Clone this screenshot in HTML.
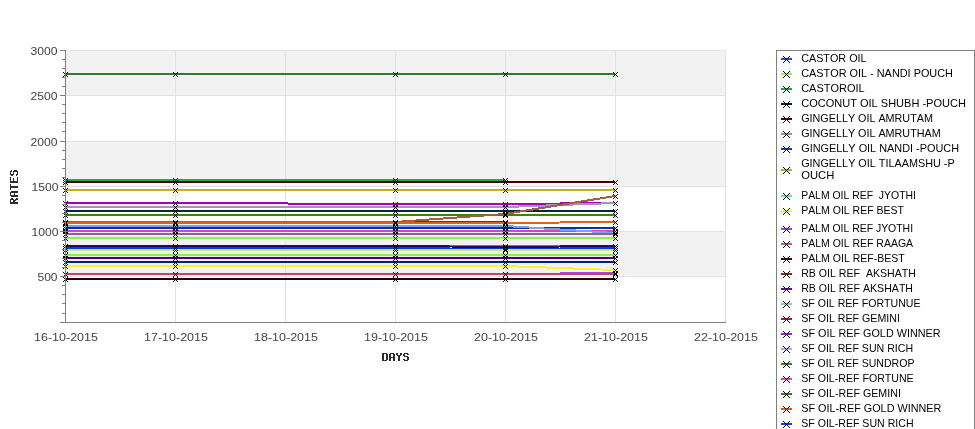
<!DOCTYPE html>
<html><head><meta charset="utf-8"><style>
html,body{margin:0;padding:0;background:#fff;overflow:hidden}
svg{display:block;will-change:transform}
</style></head><body>
<svg width="975" height="429" viewBox="0 0 975 429">
<rect x="0" y="0" width="975" height="429" fill="#fff"/>
<rect x="66" y="50" width="660" height="45" fill="#f2f2f2"/>
<rect x="66" y="141" width="660" height="45" fill="#f2f2f2"/>
<rect x="66" y="231" width="660" height="45" fill="#f2f2f2"/>
<rect x="65" y="276" width="661" height="1" fill="#e2e2e2"/>
<rect x="65" y="231" width="661" height="1" fill="#e2e2e2"/>
<rect x="65" y="186" width="661" height="1" fill="#e2e2e2"/>
<rect x="65" y="141" width="661" height="1" fill="#e2e2e2"/>
<rect x="65" y="95" width="661" height="1" fill="#e2e2e2"/>
<rect x="65" y="50" width="661" height="1" fill="#e2e2e2"/>
<rect x="175" y="50" width="1" height="272" fill="#e2e2e2"/>
<rect x="285" y="50" width="1" height="272" fill="#e2e2e2"/>
<rect x="395" y="50" width="1" height="272" fill="#e2e2e2"/>
<rect x="505" y="50" width="1" height="272" fill="#e2e2e2"/>
<rect x="615" y="50" width="1" height="272" fill="#e2e2e2"/>
<rect x="725" y="50" width="1" height="272" fill="#e2e2e2"/>
<g shape-rendering="crispEdges" stroke-width="2" stroke-linecap="butt" fill="none">
<line x1="65" y1="74" x2="175" y2="74" stroke="#2a7d2a"/>
<line x1="175" y1="74" x2="395" y2="74" stroke="#2a7d2a"/>
<line x1="395" y1="74" x2="505" y2="74" stroke="#2a7d2a"/>
<line x1="505" y1="74" x2="615" y2="74" stroke="#2a7d2a"/>
<line x1="65" y1="180" x2="175" y2="180" stroke="#22ac52"/>
<line x1="175" y1="180" x2="395" y2="180" stroke="#22ac52"/>
<line x1="395" y1="180" x2="505" y2="180" stroke="#22ac52"/>
<line x1="65" y1="182" x2="175" y2="182" stroke="#3e0000"/>
<line x1="175" y1="182" x2="395" y2="182" stroke="#3e0000"/>
<line x1="395" y1="182" x2="505" y2="182" stroke="#3e0000"/>
<line x1="505" y1="182" x2="615" y2="182" stroke="#3e0000"/>
<line x1="65" y1="184" x2="175" y2="184" stroke="#ffffff"/>
<line x1="175" y1="184" x2="395" y2="184" stroke="#ffffff"/>
<line x1="395" y1="184" x2="505" y2="184" stroke="#ffffff"/>
<line x1="505" y1="184" x2="615" y2="184" stroke="#ffffff"/>
<line x1="65" y1="190" x2="175" y2="190" stroke="#c2b020"/>
<line x1="175" y1="190" x2="395" y2="190" stroke="#c2b020"/>
<line x1="395" y1="190" x2="505" y2="190" stroke="#c2b020"/>
<line x1="505" y1="190" x2="615" y2="190" stroke="#c2b020"/>
<line x1="65" y1="205" x2="175" y2="205" stroke="#f0f8f0"/>
<line x1="175" y1="205" x2="395" y2="205" stroke="#f0f8f0"/>
<line x1="395" y1="205" x2="505" y2="205" stroke="#f0f8f0"/>
<line x1="505" y1="205" x2="615" y2="205" stroke="#f0f8f0"/>
<line x1="65" y1="203" x2="175" y2="203" stroke="#a800b0"/>
<line x1="175" y1="203" x2="395" y2="204" stroke="#a800b0"/>
<line x1="395" y1="204" x2="505" y2="204" stroke="#a800b0"/>
<line x1="505" y1="204" x2="615" y2="203" stroke="#a800b0"/>
<line x1="65" y1="207" x2="175" y2="207" stroke="#aa90c6"/>
<line x1="175" y1="207" x2="395" y2="207" stroke="#aa90c6"/>
<line x1="395" y1="207" x2="505" y2="207" stroke="#aa90c6"/>
<line x1="505" y1="207" x2="615" y2="203" stroke="#aa90c6"/>
<line x1="65" y1="211" x2="175" y2="211" stroke="#00283e"/>
<line x1="175" y1="211" x2="395" y2="211" stroke="#00283e"/>
<line x1="395" y1="211" x2="505" y2="211" stroke="#00283e"/>
<line x1="505" y1="211" x2="615" y2="211" stroke="#00283e"/>
<line x1="65" y1="215" x2="175" y2="215" stroke="#3f8010"/>
<line x1="175" y1="215" x2="395" y2="215" stroke="#3f8010"/>
<line x1="395" y1="215" x2="505" y2="215" stroke="#3f8010"/>
<line x1="505" y1="215" x2="615" y2="215" stroke="#3f8010"/>
<line x1="65" y1="222" x2="175" y2="222" stroke="#a01a10"/>
<line x1="175" y1="222" x2="395" y2="222" stroke="#a01a10"/>
<line x1="395" y1="222" x2="505" y2="222" stroke="#a01a10"/>
<line x1="65" y1="222" x2="175" y2="222" stroke="#a06040"/>
<line x1="175" y1="222" x2="395" y2="222" stroke="#a06040"/>
<line x1="395" y1="222" x2="505" y2="214" stroke="#a06040"/>
<line x1="505" y1="214" x2="615" y2="196" stroke="#a06040"/>
<line x1="65" y1="223" x2="175" y2="223" stroke="#e06020"/>
<line x1="175" y1="223" x2="395" y2="223" stroke="#e06020"/>
<line x1="395" y1="223" x2="505" y2="223" stroke="#e06020"/>
<line x1="505" y1="223" x2="615" y2="222" stroke="#e06020"/>
<line x1="65" y1="228" x2="175" y2="228" stroke="#0030b4"/>
<line x1="175" y1="228" x2="395" y2="228" stroke="#0030b4"/>
<line x1="395" y1="228" x2="505" y2="228" stroke="#0030b4"/>
<line x1="505" y1="228" x2="615" y2="228" stroke="#0030b4"/>
<line x1="65" y1="231" x2="175" y2="231" stroke="#e040b0"/>
<line x1="175" y1="231" x2="395" y2="231" stroke="#e040b0"/>
<line x1="395" y1="231" x2="505" y2="231" stroke="#e040b0"/>
<line x1="505" y1="231" x2="615" y2="231" stroke="#e040b0"/>
<line x1="65" y1="226" x2="175" y2="226" stroke="#74a4ec"/>
<line x1="175" y1="226" x2="395" y2="226" stroke="#74a4ec"/>
<line x1="395" y1="226" x2="505" y2="226" stroke="#74a4ec"/>
<line x1="505" y1="226" x2="615" y2="233" stroke="#74a4ec"/>
<line x1="65" y1="234" x2="175" y2="234" stroke="#906092"/>
<line x1="175" y1="234" x2="395" y2="234" stroke="#906092"/>
<line x1="395" y1="234" x2="505" y2="234" stroke="#906092"/>
<line x1="505" y1="234" x2="615" y2="234" stroke="#906092"/>
<line x1="65" y1="236" x2="175" y2="236" stroke="#f4eef8"/>
<line x1="175" y1="236" x2="395" y2="236" stroke="#f4eef8"/>
<line x1="395" y1="236" x2="505" y2="236" stroke="#f4eef8"/>
<line x1="505" y1="236" x2="615" y2="236" stroke="#f4eef8"/>
<line x1="65" y1="238" x2="175" y2="238" stroke="#90f040"/>
<line x1="175" y1="238" x2="395" y2="238" stroke="#90f040"/>
<line x1="395" y1="238" x2="505" y2="238" stroke="#90f040"/>
<line x1="505" y1="238" x2="615" y2="238" stroke="#90f040"/>
<line x1="65" y1="240" x2="175" y2="240" stroke="#f4eef8"/>
<line x1="175" y1="240" x2="395" y2="240" stroke="#f4eef8"/>
<line x1="395" y1="240" x2="505" y2="240" stroke="#f4eef8"/>
<line x1="505" y1="240" x2="615" y2="240" stroke="#f4eef8"/>
<line x1="65" y1="246" x2="175" y2="246" stroke="#f05030"/>
<line x1="175" y1="246" x2="395" y2="246" stroke="#f05030"/>
<line x1="395" y1="246" x2="505" y2="246" stroke="#f05030"/>
<line x1="505" y1="246" x2="615" y2="246" stroke="#f05030"/>
<line x1="65" y1="246" x2="175" y2="246" stroke="#300060"/>
<line x1="175" y1="246" x2="395" y2="246" stroke="#300060"/>
<line x1="395" y1="246" x2="505" y2="247" stroke="#300060"/>
<line x1="505" y1="247" x2="615" y2="246" stroke="#300060"/>
<line x1="65" y1="248" x2="175" y2="248" stroke="#0040d4"/>
<line x1="175" y1="248" x2="395" y2="248" stroke="#0040d4"/>
<line x1="395" y1="248" x2="505" y2="249" stroke="#0040d4"/>
<line x1="505" y1="249" x2="615" y2="248" stroke="#0040d4"/>
<line x1="65" y1="250" x2="175" y2="250" stroke="#d4e07c"/>
<line x1="175" y1="250" x2="395" y2="250" stroke="#d4e07c"/>
<line x1="395" y1="250" x2="505" y2="250" stroke="#d4e07c"/>
<line x1="505" y1="250" x2="615" y2="250" stroke="#d4e07c"/>
<line x1="65" y1="252" x2="175" y2="252" stroke="#f4eef8"/>
<line x1="175" y1="252" x2="395" y2="252" stroke="#f4eef8"/>
<line x1="395" y1="252" x2="505" y2="252" stroke="#f4eef8"/>
<line x1="505" y1="252" x2="615" y2="252" stroke="#f4eef8"/>
<line x1="65" y1="255" x2="175" y2="255" stroke="#88ee48"/>
<line x1="175" y1="255" x2="395" y2="255" stroke="#88ee48"/>
<line x1="395" y1="255" x2="505" y2="255" stroke="#88ee48"/>
<line x1="505" y1="255" x2="615" y2="255" stroke="#88ee48"/>
<line x1="65" y1="258" x2="175" y2="258" stroke="#500074"/>
<line x1="175" y1="258" x2="395" y2="258" stroke="#500074"/>
<line x1="395" y1="258" x2="505" y2="258" stroke="#500074"/>
<line x1="505" y1="258" x2="615" y2="258" stroke="#500074"/>
<line x1="65" y1="262" x2="175" y2="262" stroke="#002080"/>
<line x1="175" y1="262" x2="395" y2="262" stroke="#002080"/>
<line x1="395" y1="262" x2="505" y2="262" stroke="#002080"/>
<line x1="505" y1="262" x2="615" y2="262" stroke="#002080"/>
<line x1="65" y1="266" x2="175" y2="266" stroke="#f8f432"/>
<line x1="175" y1="266" x2="395" y2="266" stroke="#f8f432"/>
<line x1="395" y1="266" x2="505" y2="266" stroke="#f8f432"/>
<line x1="505" y1="266" x2="615" y2="270" stroke="#f8f432"/>
<line x1="65" y1="274" x2="175" y2="274" stroke="#b040f0"/>
<line x1="175" y1="274" x2="395" y2="274" stroke="#b040f0"/>
<line x1="395" y1="274" x2="505" y2="274" stroke="#b040f0"/>
<line x1="505" y1="274" x2="615" y2="273" stroke="#b040f0"/>
<line x1="65" y1="274" x2="175" y2="274" stroke="#b04c74"/>
<line x1="175" y1="274" x2="395" y2="274" stroke="#b04c74"/>
<line x1="395" y1="274" x2="505" y2="274" stroke="#b04c74"/>
<line x1="505" y1="274" x2="615" y2="274" stroke="#b04c74"/>
<line x1="65" y1="279" x2="175" y2="279" stroke="#200012"/>
<line x1="175" y1="279" x2="395" y2="279" stroke="#200012"/>
<line x1="395" y1="279" x2="505" y2="279" stroke="#200012"/>
<line x1="505" y1="279" x2="615" y2="279" stroke="#200012"/>
</g>
<path fill="#000" shape-rendering="crispEdges" d="M63 72h1v1h-1zM63 76h1v1h-1zM64 73h1v1h-1zM64 75h1v1h-1zM65 74h1v1h-1zM66 75h1v1h-1zM66 73h1v1h-1zM67 76h1v1h-1zM67 72h1v1h-1zM173 72h1v1h-1zM173 76h1v1h-1zM174 73h1v1h-1zM174 75h1v1h-1zM175 74h1v1h-1zM176 75h1v1h-1zM176 73h1v1h-1zM177 76h1v1h-1zM177 72h1v1h-1zM393 72h1v1h-1zM393 76h1v1h-1zM394 73h1v1h-1zM394 75h1v1h-1zM395 74h1v1h-1zM396 75h1v1h-1zM396 73h1v1h-1zM397 76h1v1h-1zM397 72h1v1h-1zM503 72h1v1h-1zM503 76h1v1h-1zM504 73h1v1h-1zM504 75h1v1h-1zM505 74h1v1h-1zM506 75h1v1h-1zM506 73h1v1h-1zM507 76h1v1h-1zM507 72h1v1h-1zM613 72h1v1h-1zM613 76h1v1h-1zM614 73h1v1h-1zM614 75h1v1h-1zM615 74h1v1h-1zM616 75h1v1h-1zM616 73h1v1h-1zM617 76h1v1h-1zM617 72h1v1h-1zM63 178h1v1h-1zM63 182h1v1h-1zM64 179h1v1h-1zM64 181h1v1h-1zM65 180h1v1h-1zM66 181h1v1h-1zM66 179h1v1h-1zM67 182h1v1h-1zM67 178h1v1h-1zM173 178h1v1h-1zM173 182h1v1h-1zM174 179h1v1h-1zM174 181h1v1h-1zM175 180h1v1h-1zM176 181h1v1h-1zM176 179h1v1h-1zM177 182h1v1h-1zM177 178h1v1h-1zM393 178h1v1h-1zM393 182h1v1h-1zM394 179h1v1h-1zM394 181h1v1h-1zM395 180h1v1h-1zM396 181h1v1h-1zM396 179h1v1h-1zM397 182h1v1h-1zM397 178h1v1h-1zM503 178h1v1h-1zM503 182h1v1h-1zM504 179h1v1h-1zM504 181h1v1h-1zM505 180h1v1h-1zM506 181h1v1h-1zM506 179h1v1h-1zM507 182h1v1h-1zM507 178h1v1h-1zM63 180h1v1h-1zM63 184h1v1h-1zM64 181h1v1h-1zM64 183h1v1h-1zM65 182h1v1h-1zM66 183h1v1h-1zM66 181h1v1h-1zM67 184h1v1h-1zM67 180h1v1h-1zM173 180h1v1h-1zM173 184h1v1h-1zM174 181h1v1h-1zM174 183h1v1h-1zM175 182h1v1h-1zM176 183h1v1h-1zM176 181h1v1h-1zM177 184h1v1h-1zM177 180h1v1h-1zM393 180h1v1h-1zM393 184h1v1h-1zM394 181h1v1h-1zM394 183h1v1h-1zM395 182h1v1h-1zM396 183h1v1h-1zM396 181h1v1h-1zM397 184h1v1h-1zM397 180h1v1h-1zM503 180h1v1h-1zM503 184h1v1h-1zM504 181h1v1h-1zM504 183h1v1h-1zM505 182h1v1h-1zM506 183h1v1h-1zM506 181h1v1h-1zM507 184h1v1h-1zM507 180h1v1h-1zM613 180h1v1h-1zM613 184h1v1h-1zM614 181h1v1h-1zM614 183h1v1h-1zM615 182h1v1h-1zM616 183h1v1h-1zM616 181h1v1h-1zM617 184h1v1h-1zM617 180h1v1h-1zM63 188h1v1h-1zM63 192h1v1h-1zM64 189h1v1h-1zM64 191h1v1h-1zM65 190h1v1h-1zM66 191h1v1h-1zM66 189h1v1h-1zM67 192h1v1h-1zM67 188h1v1h-1zM173 188h1v1h-1zM173 192h1v1h-1zM174 189h1v1h-1zM174 191h1v1h-1zM175 190h1v1h-1zM176 191h1v1h-1zM176 189h1v1h-1zM177 192h1v1h-1zM177 188h1v1h-1zM393 188h1v1h-1zM393 192h1v1h-1zM394 189h1v1h-1zM394 191h1v1h-1zM395 190h1v1h-1zM396 191h1v1h-1zM396 189h1v1h-1zM397 192h1v1h-1zM397 188h1v1h-1zM503 188h1v1h-1zM503 192h1v1h-1zM504 189h1v1h-1zM504 191h1v1h-1zM505 190h1v1h-1zM506 191h1v1h-1zM506 189h1v1h-1zM507 192h1v1h-1zM507 188h1v1h-1zM613 188h1v1h-1zM613 192h1v1h-1zM614 189h1v1h-1zM614 191h1v1h-1zM615 190h1v1h-1zM616 191h1v1h-1zM616 189h1v1h-1zM617 192h1v1h-1zM617 188h1v1h-1zM63 201h1v1h-1zM63 205h1v1h-1zM64 202h1v1h-1zM64 204h1v1h-1zM65 203h1v1h-1zM66 204h1v1h-1zM66 202h1v1h-1zM67 205h1v1h-1zM67 201h1v1h-1zM173 201h1v1h-1zM173 205h1v1h-1zM174 202h1v1h-1zM174 204h1v1h-1zM175 203h1v1h-1zM176 204h1v1h-1zM176 202h1v1h-1zM177 205h1v1h-1zM177 201h1v1h-1zM393 202h1v1h-1zM393 206h1v1h-1zM394 203h1v1h-1zM394 205h1v1h-1zM395 204h1v1h-1zM396 205h1v1h-1zM396 203h1v1h-1zM397 206h1v1h-1zM397 202h1v1h-1zM503 202h1v1h-1zM503 206h1v1h-1zM504 203h1v1h-1zM504 205h1v1h-1zM505 204h1v1h-1zM506 205h1v1h-1zM506 203h1v1h-1zM507 206h1v1h-1zM507 202h1v1h-1zM613 201h1v1h-1zM613 205h1v1h-1zM614 202h1v1h-1zM614 204h1v1h-1zM615 203h1v1h-1zM616 204h1v1h-1zM616 202h1v1h-1zM617 205h1v1h-1zM617 201h1v1h-1zM63 205h1v1h-1zM63 209h1v1h-1zM64 206h1v1h-1zM64 208h1v1h-1zM65 207h1v1h-1zM66 208h1v1h-1zM66 206h1v1h-1zM67 209h1v1h-1zM67 205h1v1h-1zM173 205h1v1h-1zM173 209h1v1h-1zM174 206h1v1h-1zM174 208h1v1h-1zM175 207h1v1h-1zM176 208h1v1h-1zM176 206h1v1h-1zM177 209h1v1h-1zM177 205h1v1h-1zM393 205h1v1h-1zM393 209h1v1h-1zM394 206h1v1h-1zM394 208h1v1h-1zM395 207h1v1h-1zM396 208h1v1h-1zM396 206h1v1h-1zM397 209h1v1h-1zM397 205h1v1h-1zM503 205h1v1h-1zM503 209h1v1h-1zM504 206h1v1h-1zM504 208h1v1h-1zM505 207h1v1h-1zM506 208h1v1h-1zM506 206h1v1h-1zM507 209h1v1h-1zM507 205h1v1h-1zM613 201h1v1h-1zM613 205h1v1h-1zM614 202h1v1h-1zM614 204h1v1h-1zM615 203h1v1h-1zM616 204h1v1h-1zM616 202h1v1h-1zM617 205h1v1h-1zM617 201h1v1h-1zM63 209h1v1h-1zM63 213h1v1h-1zM64 210h1v1h-1zM64 212h1v1h-1zM65 211h1v1h-1zM66 212h1v1h-1zM66 210h1v1h-1zM67 213h1v1h-1zM67 209h1v1h-1zM173 209h1v1h-1zM173 213h1v1h-1zM174 210h1v1h-1zM174 212h1v1h-1zM175 211h1v1h-1zM176 212h1v1h-1zM176 210h1v1h-1zM177 213h1v1h-1zM177 209h1v1h-1zM393 209h1v1h-1zM393 213h1v1h-1zM394 210h1v1h-1zM394 212h1v1h-1zM395 211h1v1h-1zM396 212h1v1h-1zM396 210h1v1h-1zM397 213h1v1h-1zM397 209h1v1h-1zM503 209h1v1h-1zM503 213h1v1h-1zM504 210h1v1h-1zM504 212h1v1h-1zM505 211h1v1h-1zM506 212h1v1h-1zM506 210h1v1h-1zM507 213h1v1h-1zM507 209h1v1h-1zM613 209h1v1h-1zM613 213h1v1h-1zM614 210h1v1h-1zM614 212h1v1h-1zM615 211h1v1h-1zM616 212h1v1h-1zM616 210h1v1h-1zM617 213h1v1h-1zM617 209h1v1h-1zM63 213h1v1h-1zM63 217h1v1h-1zM64 214h1v1h-1zM64 216h1v1h-1zM65 215h1v1h-1zM66 216h1v1h-1zM66 214h1v1h-1zM67 217h1v1h-1zM67 213h1v1h-1zM173 213h1v1h-1zM173 217h1v1h-1zM174 214h1v1h-1zM174 216h1v1h-1zM175 215h1v1h-1zM176 216h1v1h-1zM176 214h1v1h-1zM177 217h1v1h-1zM177 213h1v1h-1zM393 213h1v1h-1zM393 217h1v1h-1zM394 214h1v1h-1zM394 216h1v1h-1zM395 215h1v1h-1zM396 216h1v1h-1zM396 214h1v1h-1zM397 217h1v1h-1zM397 213h1v1h-1zM503 213h1v1h-1zM503 217h1v1h-1zM504 214h1v1h-1zM504 216h1v1h-1zM505 215h1v1h-1zM506 216h1v1h-1zM506 214h1v1h-1zM507 217h1v1h-1zM507 213h1v1h-1zM613 213h1v1h-1zM613 217h1v1h-1zM614 214h1v1h-1zM614 216h1v1h-1zM615 215h1v1h-1zM616 216h1v1h-1zM616 214h1v1h-1zM617 217h1v1h-1zM617 213h1v1h-1zM63 220h1v1h-1zM63 224h1v1h-1zM64 221h1v1h-1zM64 223h1v1h-1zM65 222h1v1h-1zM66 223h1v1h-1zM66 221h1v1h-1zM67 224h1v1h-1zM67 220h1v1h-1zM173 220h1v1h-1zM173 224h1v1h-1zM174 221h1v1h-1zM174 223h1v1h-1zM175 222h1v1h-1zM176 223h1v1h-1zM176 221h1v1h-1zM177 224h1v1h-1zM177 220h1v1h-1zM393 220h1v1h-1zM393 224h1v1h-1zM394 221h1v1h-1zM394 223h1v1h-1zM395 222h1v1h-1zM396 223h1v1h-1zM396 221h1v1h-1zM397 224h1v1h-1zM397 220h1v1h-1zM503 220h1v1h-1zM503 224h1v1h-1zM504 221h1v1h-1zM504 223h1v1h-1zM505 222h1v1h-1zM506 223h1v1h-1zM506 221h1v1h-1zM507 224h1v1h-1zM507 220h1v1h-1zM63 220h1v1h-1zM63 224h1v1h-1zM64 221h1v1h-1zM64 223h1v1h-1zM65 222h1v1h-1zM66 223h1v1h-1zM66 221h1v1h-1zM67 224h1v1h-1zM67 220h1v1h-1zM173 220h1v1h-1zM173 224h1v1h-1zM174 221h1v1h-1zM174 223h1v1h-1zM175 222h1v1h-1zM176 223h1v1h-1zM176 221h1v1h-1zM177 224h1v1h-1zM177 220h1v1h-1zM393 220h1v1h-1zM393 224h1v1h-1zM394 221h1v1h-1zM394 223h1v1h-1zM395 222h1v1h-1zM396 223h1v1h-1zM396 221h1v1h-1zM397 224h1v1h-1zM397 220h1v1h-1zM503 212h1v1h-1zM503 216h1v1h-1zM504 213h1v1h-1zM504 215h1v1h-1zM505 214h1v1h-1zM506 215h1v1h-1zM506 213h1v1h-1zM507 216h1v1h-1zM507 212h1v1h-1zM613 194h1v1h-1zM613 198h1v1h-1zM614 195h1v1h-1zM614 197h1v1h-1zM615 196h1v1h-1zM616 197h1v1h-1zM616 195h1v1h-1zM617 198h1v1h-1zM617 194h1v1h-1zM63 221h1v1h-1zM63 225h1v1h-1zM64 222h1v1h-1zM64 224h1v1h-1zM65 223h1v1h-1zM66 224h1v1h-1zM66 222h1v1h-1zM67 225h1v1h-1zM67 221h1v1h-1zM173 221h1v1h-1zM173 225h1v1h-1zM174 222h1v1h-1zM174 224h1v1h-1zM175 223h1v1h-1zM176 224h1v1h-1zM176 222h1v1h-1zM177 225h1v1h-1zM177 221h1v1h-1zM393 221h1v1h-1zM393 225h1v1h-1zM394 222h1v1h-1zM394 224h1v1h-1zM395 223h1v1h-1zM396 224h1v1h-1zM396 222h1v1h-1zM397 225h1v1h-1zM397 221h1v1h-1zM503 221h1v1h-1zM503 225h1v1h-1zM504 222h1v1h-1zM504 224h1v1h-1zM505 223h1v1h-1zM506 224h1v1h-1zM506 222h1v1h-1zM507 225h1v1h-1zM507 221h1v1h-1zM613 220h1v1h-1zM613 224h1v1h-1zM614 221h1v1h-1zM614 223h1v1h-1zM615 222h1v1h-1zM616 223h1v1h-1zM616 221h1v1h-1zM617 224h1v1h-1zM617 220h1v1h-1zM63 226h1v1h-1zM63 230h1v1h-1zM64 227h1v1h-1zM64 229h1v1h-1zM65 228h1v1h-1zM66 229h1v1h-1zM66 227h1v1h-1zM67 230h1v1h-1zM67 226h1v1h-1zM173 226h1v1h-1zM173 230h1v1h-1zM174 227h1v1h-1zM174 229h1v1h-1zM175 228h1v1h-1zM176 229h1v1h-1zM176 227h1v1h-1zM177 230h1v1h-1zM177 226h1v1h-1zM393 226h1v1h-1zM393 230h1v1h-1zM394 227h1v1h-1zM394 229h1v1h-1zM395 228h1v1h-1zM396 229h1v1h-1zM396 227h1v1h-1zM397 230h1v1h-1zM397 226h1v1h-1zM503 226h1v1h-1zM503 230h1v1h-1zM504 227h1v1h-1zM504 229h1v1h-1zM505 228h1v1h-1zM506 229h1v1h-1zM506 227h1v1h-1zM507 230h1v1h-1zM507 226h1v1h-1zM613 226h1v1h-1zM613 230h1v1h-1zM614 227h1v1h-1zM614 229h1v1h-1zM615 228h1v1h-1zM616 229h1v1h-1zM616 227h1v1h-1zM617 230h1v1h-1zM617 226h1v1h-1zM63 229h1v1h-1zM63 233h1v1h-1zM64 230h1v1h-1zM64 232h1v1h-1zM65 231h1v1h-1zM66 232h1v1h-1zM66 230h1v1h-1zM67 233h1v1h-1zM67 229h1v1h-1zM173 229h1v1h-1zM173 233h1v1h-1zM174 230h1v1h-1zM174 232h1v1h-1zM175 231h1v1h-1zM176 232h1v1h-1zM176 230h1v1h-1zM177 233h1v1h-1zM177 229h1v1h-1zM393 229h1v1h-1zM393 233h1v1h-1zM394 230h1v1h-1zM394 232h1v1h-1zM395 231h1v1h-1zM396 232h1v1h-1zM396 230h1v1h-1zM397 233h1v1h-1zM397 229h1v1h-1zM503 229h1v1h-1zM503 233h1v1h-1zM504 230h1v1h-1zM504 232h1v1h-1zM505 231h1v1h-1zM506 232h1v1h-1zM506 230h1v1h-1zM507 233h1v1h-1zM507 229h1v1h-1zM613 229h1v1h-1zM613 233h1v1h-1zM614 230h1v1h-1zM614 232h1v1h-1zM615 231h1v1h-1zM616 232h1v1h-1zM616 230h1v1h-1zM617 233h1v1h-1zM617 229h1v1h-1zM63 224h1v1h-1zM63 228h1v1h-1zM64 225h1v1h-1zM64 227h1v1h-1zM65 226h1v1h-1zM66 227h1v1h-1zM66 225h1v1h-1zM67 228h1v1h-1zM67 224h1v1h-1zM173 224h1v1h-1zM173 228h1v1h-1zM174 225h1v1h-1zM174 227h1v1h-1zM175 226h1v1h-1zM176 227h1v1h-1zM176 225h1v1h-1zM177 228h1v1h-1zM177 224h1v1h-1zM393 224h1v1h-1zM393 228h1v1h-1zM394 225h1v1h-1zM394 227h1v1h-1zM395 226h1v1h-1zM396 227h1v1h-1zM396 225h1v1h-1zM397 228h1v1h-1zM397 224h1v1h-1zM503 224h1v1h-1zM503 228h1v1h-1zM504 225h1v1h-1zM504 227h1v1h-1zM505 226h1v1h-1zM506 227h1v1h-1zM506 225h1v1h-1zM507 228h1v1h-1zM507 224h1v1h-1zM613 231h1v1h-1zM613 235h1v1h-1zM614 232h1v1h-1zM614 234h1v1h-1zM615 233h1v1h-1zM616 234h1v1h-1zM616 232h1v1h-1zM617 235h1v1h-1zM617 231h1v1h-1zM63 232h1v1h-1zM63 236h1v1h-1zM64 233h1v1h-1zM64 235h1v1h-1zM65 234h1v1h-1zM66 235h1v1h-1zM66 233h1v1h-1zM67 236h1v1h-1zM67 232h1v1h-1zM173 232h1v1h-1zM173 236h1v1h-1zM174 233h1v1h-1zM174 235h1v1h-1zM175 234h1v1h-1zM176 235h1v1h-1zM176 233h1v1h-1zM177 236h1v1h-1zM177 232h1v1h-1zM393 232h1v1h-1zM393 236h1v1h-1zM394 233h1v1h-1zM394 235h1v1h-1zM395 234h1v1h-1zM396 235h1v1h-1zM396 233h1v1h-1zM397 236h1v1h-1zM397 232h1v1h-1zM503 232h1v1h-1zM503 236h1v1h-1zM504 233h1v1h-1zM504 235h1v1h-1zM505 234h1v1h-1zM506 235h1v1h-1zM506 233h1v1h-1zM507 236h1v1h-1zM507 232h1v1h-1zM613 232h1v1h-1zM613 236h1v1h-1zM614 233h1v1h-1zM614 235h1v1h-1zM615 234h1v1h-1zM616 235h1v1h-1zM616 233h1v1h-1zM617 236h1v1h-1zM617 232h1v1h-1zM63 236h1v1h-1zM63 240h1v1h-1zM64 237h1v1h-1zM64 239h1v1h-1zM65 238h1v1h-1zM66 239h1v1h-1zM66 237h1v1h-1zM67 240h1v1h-1zM67 236h1v1h-1zM173 236h1v1h-1zM173 240h1v1h-1zM174 237h1v1h-1zM174 239h1v1h-1zM175 238h1v1h-1zM176 239h1v1h-1zM176 237h1v1h-1zM177 240h1v1h-1zM177 236h1v1h-1zM393 236h1v1h-1zM393 240h1v1h-1zM394 237h1v1h-1zM394 239h1v1h-1zM395 238h1v1h-1zM396 239h1v1h-1zM396 237h1v1h-1zM397 240h1v1h-1zM397 236h1v1h-1zM503 236h1v1h-1zM503 240h1v1h-1zM504 237h1v1h-1zM504 239h1v1h-1zM505 238h1v1h-1zM506 239h1v1h-1zM506 237h1v1h-1zM507 240h1v1h-1zM507 236h1v1h-1zM613 236h1v1h-1zM613 240h1v1h-1zM614 237h1v1h-1zM614 239h1v1h-1zM615 238h1v1h-1zM616 239h1v1h-1zM616 237h1v1h-1zM617 240h1v1h-1zM617 236h1v1h-1zM63 244h1v1h-1zM63 248h1v1h-1zM64 245h1v1h-1zM64 247h1v1h-1zM65 246h1v1h-1zM66 247h1v1h-1zM66 245h1v1h-1zM67 248h1v1h-1zM67 244h1v1h-1zM173 244h1v1h-1zM173 248h1v1h-1zM174 245h1v1h-1zM174 247h1v1h-1zM175 246h1v1h-1zM176 247h1v1h-1zM176 245h1v1h-1zM177 248h1v1h-1zM177 244h1v1h-1zM393 244h1v1h-1zM393 248h1v1h-1zM394 245h1v1h-1zM394 247h1v1h-1zM395 246h1v1h-1zM396 247h1v1h-1zM396 245h1v1h-1zM397 248h1v1h-1zM397 244h1v1h-1zM503 244h1v1h-1zM503 248h1v1h-1zM504 245h1v1h-1zM504 247h1v1h-1zM505 246h1v1h-1zM506 247h1v1h-1zM506 245h1v1h-1zM507 248h1v1h-1zM507 244h1v1h-1zM613 244h1v1h-1zM613 248h1v1h-1zM614 245h1v1h-1zM614 247h1v1h-1zM615 246h1v1h-1zM616 247h1v1h-1zM616 245h1v1h-1zM617 248h1v1h-1zM617 244h1v1h-1zM63 244h1v1h-1zM63 248h1v1h-1zM64 245h1v1h-1zM64 247h1v1h-1zM65 246h1v1h-1zM66 247h1v1h-1zM66 245h1v1h-1zM67 248h1v1h-1zM67 244h1v1h-1zM173 244h1v1h-1zM173 248h1v1h-1zM174 245h1v1h-1zM174 247h1v1h-1zM175 246h1v1h-1zM176 247h1v1h-1zM176 245h1v1h-1zM177 248h1v1h-1zM177 244h1v1h-1zM393 244h1v1h-1zM393 248h1v1h-1zM394 245h1v1h-1zM394 247h1v1h-1zM395 246h1v1h-1zM396 247h1v1h-1zM396 245h1v1h-1zM397 248h1v1h-1zM397 244h1v1h-1zM503 245h1v1h-1zM503 249h1v1h-1zM504 246h1v1h-1zM504 248h1v1h-1zM505 247h1v1h-1zM506 248h1v1h-1zM506 246h1v1h-1zM507 249h1v1h-1zM507 245h1v1h-1zM613 244h1v1h-1zM613 248h1v1h-1zM614 245h1v1h-1zM614 247h1v1h-1zM615 246h1v1h-1zM616 247h1v1h-1zM616 245h1v1h-1zM617 248h1v1h-1zM617 244h1v1h-1zM63 246h1v1h-1zM63 250h1v1h-1zM64 247h1v1h-1zM64 249h1v1h-1zM65 248h1v1h-1zM66 249h1v1h-1zM66 247h1v1h-1zM67 250h1v1h-1zM67 246h1v1h-1zM173 246h1v1h-1zM173 250h1v1h-1zM174 247h1v1h-1zM174 249h1v1h-1zM175 248h1v1h-1zM176 249h1v1h-1zM176 247h1v1h-1zM177 250h1v1h-1zM177 246h1v1h-1zM393 246h1v1h-1zM393 250h1v1h-1zM394 247h1v1h-1zM394 249h1v1h-1zM395 248h1v1h-1zM396 249h1v1h-1zM396 247h1v1h-1zM397 250h1v1h-1zM397 246h1v1h-1zM503 247h1v1h-1zM503 251h1v1h-1zM504 248h1v1h-1zM504 250h1v1h-1zM505 249h1v1h-1zM506 250h1v1h-1zM506 248h1v1h-1zM507 251h1v1h-1zM507 247h1v1h-1zM613 246h1v1h-1zM613 250h1v1h-1zM614 247h1v1h-1zM614 249h1v1h-1zM615 248h1v1h-1zM616 249h1v1h-1zM616 247h1v1h-1zM617 250h1v1h-1zM617 246h1v1h-1zM63 248h1v1h-1zM63 252h1v1h-1zM64 249h1v1h-1zM64 251h1v1h-1zM65 250h1v1h-1zM66 251h1v1h-1zM66 249h1v1h-1zM67 252h1v1h-1zM67 248h1v1h-1zM173 248h1v1h-1zM173 252h1v1h-1zM174 249h1v1h-1zM174 251h1v1h-1zM175 250h1v1h-1zM176 251h1v1h-1zM176 249h1v1h-1zM177 252h1v1h-1zM177 248h1v1h-1zM393 248h1v1h-1zM393 252h1v1h-1zM394 249h1v1h-1zM394 251h1v1h-1zM395 250h1v1h-1zM396 251h1v1h-1zM396 249h1v1h-1zM397 252h1v1h-1zM397 248h1v1h-1zM503 248h1v1h-1zM503 252h1v1h-1zM504 249h1v1h-1zM504 251h1v1h-1zM505 250h1v1h-1zM506 251h1v1h-1zM506 249h1v1h-1zM507 252h1v1h-1zM507 248h1v1h-1zM613 248h1v1h-1zM613 252h1v1h-1zM614 249h1v1h-1zM614 251h1v1h-1zM615 250h1v1h-1zM616 251h1v1h-1zM616 249h1v1h-1zM617 252h1v1h-1zM617 248h1v1h-1zM63 253h1v1h-1zM63 257h1v1h-1zM64 254h1v1h-1zM64 256h1v1h-1zM65 255h1v1h-1zM66 256h1v1h-1zM66 254h1v1h-1zM67 257h1v1h-1zM67 253h1v1h-1zM173 253h1v1h-1zM173 257h1v1h-1zM174 254h1v1h-1zM174 256h1v1h-1zM175 255h1v1h-1zM176 256h1v1h-1zM176 254h1v1h-1zM177 257h1v1h-1zM177 253h1v1h-1zM393 253h1v1h-1zM393 257h1v1h-1zM394 254h1v1h-1zM394 256h1v1h-1zM395 255h1v1h-1zM396 256h1v1h-1zM396 254h1v1h-1zM397 257h1v1h-1zM397 253h1v1h-1zM503 253h1v1h-1zM503 257h1v1h-1zM504 254h1v1h-1zM504 256h1v1h-1zM505 255h1v1h-1zM506 256h1v1h-1zM506 254h1v1h-1zM507 257h1v1h-1zM507 253h1v1h-1zM613 253h1v1h-1zM613 257h1v1h-1zM614 254h1v1h-1zM614 256h1v1h-1zM615 255h1v1h-1zM616 256h1v1h-1zM616 254h1v1h-1zM617 257h1v1h-1zM617 253h1v1h-1zM63 256h1v1h-1zM63 260h1v1h-1zM64 257h1v1h-1zM64 259h1v1h-1zM65 258h1v1h-1zM66 259h1v1h-1zM66 257h1v1h-1zM67 260h1v1h-1zM67 256h1v1h-1zM173 256h1v1h-1zM173 260h1v1h-1zM174 257h1v1h-1zM174 259h1v1h-1zM175 258h1v1h-1zM176 259h1v1h-1zM176 257h1v1h-1zM177 260h1v1h-1zM177 256h1v1h-1zM393 256h1v1h-1zM393 260h1v1h-1zM394 257h1v1h-1zM394 259h1v1h-1zM395 258h1v1h-1zM396 259h1v1h-1zM396 257h1v1h-1zM397 260h1v1h-1zM397 256h1v1h-1zM503 256h1v1h-1zM503 260h1v1h-1zM504 257h1v1h-1zM504 259h1v1h-1zM505 258h1v1h-1zM506 259h1v1h-1zM506 257h1v1h-1zM507 260h1v1h-1zM507 256h1v1h-1zM613 256h1v1h-1zM613 260h1v1h-1zM614 257h1v1h-1zM614 259h1v1h-1zM615 258h1v1h-1zM616 259h1v1h-1zM616 257h1v1h-1zM617 260h1v1h-1zM617 256h1v1h-1zM63 260h1v1h-1zM63 264h1v1h-1zM64 261h1v1h-1zM64 263h1v1h-1zM65 262h1v1h-1zM66 263h1v1h-1zM66 261h1v1h-1zM67 264h1v1h-1zM67 260h1v1h-1zM173 260h1v1h-1zM173 264h1v1h-1zM174 261h1v1h-1zM174 263h1v1h-1zM175 262h1v1h-1zM176 263h1v1h-1zM176 261h1v1h-1zM177 264h1v1h-1zM177 260h1v1h-1zM393 260h1v1h-1zM393 264h1v1h-1zM394 261h1v1h-1zM394 263h1v1h-1zM395 262h1v1h-1zM396 263h1v1h-1zM396 261h1v1h-1zM397 264h1v1h-1zM397 260h1v1h-1zM503 260h1v1h-1zM503 264h1v1h-1zM504 261h1v1h-1zM504 263h1v1h-1zM505 262h1v1h-1zM506 263h1v1h-1zM506 261h1v1h-1zM507 264h1v1h-1zM507 260h1v1h-1zM613 260h1v1h-1zM613 264h1v1h-1zM614 261h1v1h-1zM614 263h1v1h-1zM615 262h1v1h-1zM616 263h1v1h-1zM616 261h1v1h-1zM617 264h1v1h-1zM617 260h1v1h-1zM63 264h1v1h-1zM63 268h1v1h-1zM64 265h1v1h-1zM64 267h1v1h-1zM65 266h1v1h-1zM66 267h1v1h-1zM66 265h1v1h-1zM67 268h1v1h-1zM67 264h1v1h-1zM173 264h1v1h-1zM173 268h1v1h-1zM174 265h1v1h-1zM174 267h1v1h-1zM175 266h1v1h-1zM176 267h1v1h-1zM176 265h1v1h-1zM177 268h1v1h-1zM177 264h1v1h-1zM393 264h1v1h-1zM393 268h1v1h-1zM394 265h1v1h-1zM394 267h1v1h-1zM395 266h1v1h-1zM396 267h1v1h-1zM396 265h1v1h-1zM397 268h1v1h-1zM397 264h1v1h-1zM503 264h1v1h-1zM503 268h1v1h-1zM504 265h1v1h-1zM504 267h1v1h-1zM505 266h1v1h-1zM506 267h1v1h-1zM506 265h1v1h-1zM507 268h1v1h-1zM507 264h1v1h-1zM613 268h1v1h-1zM613 272h1v1h-1zM614 269h1v1h-1zM614 271h1v1h-1zM615 270h1v1h-1zM616 271h1v1h-1zM616 269h1v1h-1zM617 272h1v1h-1zM617 268h1v1h-1zM63 272h1v1h-1zM63 276h1v1h-1zM64 273h1v1h-1zM64 275h1v1h-1zM65 274h1v1h-1zM66 275h1v1h-1zM66 273h1v1h-1zM67 276h1v1h-1zM67 272h1v1h-1zM173 272h1v1h-1zM173 276h1v1h-1zM174 273h1v1h-1zM174 275h1v1h-1zM175 274h1v1h-1zM176 275h1v1h-1zM176 273h1v1h-1zM177 276h1v1h-1zM177 272h1v1h-1zM393 272h1v1h-1zM393 276h1v1h-1zM394 273h1v1h-1zM394 275h1v1h-1zM395 274h1v1h-1zM396 275h1v1h-1zM396 273h1v1h-1zM397 276h1v1h-1zM397 272h1v1h-1zM503 272h1v1h-1zM503 276h1v1h-1zM504 273h1v1h-1zM504 275h1v1h-1zM505 274h1v1h-1zM506 275h1v1h-1zM506 273h1v1h-1zM507 276h1v1h-1zM507 272h1v1h-1zM613 271h1v1h-1zM613 275h1v1h-1zM614 272h1v1h-1zM614 274h1v1h-1zM615 273h1v1h-1zM616 274h1v1h-1zM616 272h1v1h-1zM617 275h1v1h-1zM617 271h1v1h-1zM63 272h1v1h-1zM63 276h1v1h-1zM64 273h1v1h-1zM64 275h1v1h-1zM65 274h1v1h-1zM66 275h1v1h-1zM66 273h1v1h-1zM67 276h1v1h-1zM67 272h1v1h-1zM173 272h1v1h-1zM173 276h1v1h-1zM174 273h1v1h-1zM174 275h1v1h-1zM175 274h1v1h-1zM176 275h1v1h-1zM176 273h1v1h-1zM177 276h1v1h-1zM177 272h1v1h-1zM393 272h1v1h-1zM393 276h1v1h-1zM394 273h1v1h-1zM394 275h1v1h-1zM395 274h1v1h-1zM396 275h1v1h-1zM396 273h1v1h-1zM397 276h1v1h-1zM397 272h1v1h-1zM503 272h1v1h-1zM503 276h1v1h-1zM504 273h1v1h-1zM504 275h1v1h-1zM505 274h1v1h-1zM506 275h1v1h-1zM506 273h1v1h-1zM507 276h1v1h-1zM507 272h1v1h-1zM613 272h1v1h-1zM613 276h1v1h-1zM614 273h1v1h-1zM614 275h1v1h-1zM615 274h1v1h-1zM616 275h1v1h-1zM616 273h1v1h-1zM617 276h1v1h-1zM617 272h1v1h-1zM63 277h1v1h-1zM63 281h1v1h-1zM64 278h1v1h-1zM64 280h1v1h-1zM65 279h1v1h-1zM66 280h1v1h-1zM66 278h1v1h-1zM67 281h1v1h-1zM67 277h1v1h-1zM173 277h1v1h-1zM173 281h1v1h-1zM174 278h1v1h-1zM174 280h1v1h-1zM175 279h1v1h-1zM176 280h1v1h-1zM176 278h1v1h-1zM177 281h1v1h-1zM177 277h1v1h-1zM393 277h1v1h-1zM393 281h1v1h-1zM394 278h1v1h-1zM394 280h1v1h-1zM395 279h1v1h-1zM396 280h1v1h-1zM396 278h1v1h-1zM397 281h1v1h-1zM397 277h1v1h-1zM503 277h1v1h-1zM503 281h1v1h-1zM504 278h1v1h-1zM504 280h1v1h-1zM505 279h1v1h-1zM506 280h1v1h-1zM506 278h1v1h-1zM507 281h1v1h-1zM507 277h1v1h-1zM613 277h1v1h-1zM613 281h1v1h-1zM614 278h1v1h-1zM614 280h1v1h-1zM615 279h1v1h-1zM616 280h1v1h-1zM616 278h1v1h-1zM617 281h1v1h-1zM617 277h1v1h-1z"/>
<g fill="#808080" shape-rendering="crispEdges">
<rect x="65" y="50" width="1" height="273"/>
<rect x="60" y="322" width="666" height="1"/>
<rect x="60" y="322" width="5" height="1"/>
<rect x="62" y="313" width="3" height="1"/>
<rect x="62" y="303" width="3" height="1"/>
<rect x="62" y="294" width="3" height="1"/>
<rect x="62" y="285" width="3" height="1"/>
<rect x="60" y="276" width="5" height="1"/>
<rect x="62" y="267" width="3" height="1"/>
<rect x="62" y="258" width="3" height="1"/>
<rect x="62" y="249" width="3" height="1"/>
<rect x="62" y="240" width="3" height="1"/>
<rect x="60" y="231" width="5" height="1"/>
<rect x="62" y="222" width="3" height="1"/>
<rect x="62" y="213" width="3" height="1"/>
<rect x="62" y="204" width="3" height="1"/>
<rect x="62" y="195" width="3" height="1"/>
<rect x="60" y="186" width="5" height="1"/>
<rect x="62" y="177" width="3" height="1"/>
<rect x="62" y="168" width="3" height="1"/>
<rect x="62" y="159" width="3" height="1"/>
<rect x="62" y="150" width="3" height="1"/>
<rect x="60" y="141" width="5" height="1"/>
<rect x="62" y="131" width="3" height="1"/>
<rect x="62" y="122" width="3" height="1"/>
<rect x="62" y="113" width="3" height="1"/>
<rect x="62" y="104" width="3" height="1"/>
<rect x="60" y="95" width="5" height="1"/>
<rect x="62" y="86" width="3" height="1"/>
<rect x="62" y="77" width="3" height="1"/>
<rect x="62" y="68" width="3" height="1"/>
<rect x="62" y="59" width="3" height="1"/>
<rect x="60" y="50" width="5" height="1"/>
</g>
<g style="font-family:&quot;Liberation Sans&quot;,sans-serif;font-kerning:none" font-size="11" fill="#444" opacity="0.999">
<text x="57.5" y="281" text-anchor="end" textLength="20.00" lengthAdjust="spacingAndGlyphs">500</text>
<text x="58.5" y="236" text-anchor="end" textLength="27.00" lengthAdjust="spacingAndGlyphs">1000</text>
<text x="58.5" y="191" text-anchor="end" textLength="27.00" lengthAdjust="spacingAndGlyphs">1500</text>
<text x="57.5" y="146" text-anchor="end" textLength="27.00" lengthAdjust="spacingAndGlyphs">2000</text>
<text x="57.5" y="100" text-anchor="end" textLength="27.00" lengthAdjust="spacingAndGlyphs">2500</text>
<text x="57.5" y="55" text-anchor="end" textLength="27.00" lengthAdjust="spacingAndGlyphs">3000</text>
<text x="66" y="341" text-anchor="middle" textLength="63.94" lengthAdjust="spacingAndGlyphs">16-10-2015</text>
<text x="176" y="341" text-anchor="middle" textLength="63.94" lengthAdjust="spacingAndGlyphs">17-10-2015</text>
<text x="286" y="341" text-anchor="middle" textLength="63.94" lengthAdjust="spacingAndGlyphs">18-10-2015</text>
<text x="396" y="341" text-anchor="middle" textLength="63.94" lengthAdjust="spacingAndGlyphs">19-10-2015</text>
<text x="506" y="341" text-anchor="middle" textLength="63.94" lengthAdjust="spacingAndGlyphs">20-10-2015</text>
<text x="616" y="341" text-anchor="middle" textLength="63.94" lengthAdjust="spacingAndGlyphs">21-10-2015</text>
<text x="726" y="341" text-anchor="middle" textLength="63.94" lengthAdjust="spacingAndGlyphs">22-10-2015</text>
</g>
<path fill="#2e2e2e" shape-rendering="crispEdges" d="M382 353h1v1h-1zM383 353h1v1h-1zM384 353h1v1h-1zM385 353h1v1h-1zM386 353h1v1h-1zM382 354h1v1h-1zM383 354h1v1h-1zM386 354h1v1h-1zM387 354h1v1h-1zM382 355h1v1h-1zM383 355h1v1h-1zM386 355h1v1h-1zM387 355h1v1h-1zM382 356h1v1h-1zM383 356h1v1h-1zM386 356h1v1h-1zM387 356h1v1h-1zM382 357h1v1h-1zM383 357h1v1h-1zM386 357h1v1h-1zM387 357h1v1h-1zM382 358h1v1h-1zM383 358h1v1h-1zM386 358h1v1h-1zM387 358h1v1h-1zM382 359h1v1h-1zM383 359h1v1h-1zM386 359h1v1h-1zM387 359h1v1h-1zM382 360h1v1h-1zM383 360h1v1h-1zM384 360h1v1h-1zM385 360h1v1h-1zM386 360h1v1h-1zM390 353h1v1h-1zM391 353h1v1h-1zM392 353h1v1h-1zM393 353h1v1h-1zM389 354h1v1h-1zM390 354h1v1h-1zM393 354h1v1h-1zM394 354h1v1h-1zM389 355h1v1h-1zM390 355h1v1h-1zM393 355h1v1h-1zM394 355h1v1h-1zM389 356h1v1h-1zM390 356h1v1h-1zM393 356h1v1h-1zM394 356h1v1h-1zM389 357h1v1h-1zM390 357h1v1h-1zM391 357h1v1h-1zM392 357h1v1h-1zM393 357h1v1h-1zM394 357h1v1h-1zM389 358h1v1h-1zM390 358h1v1h-1zM393 358h1v1h-1zM394 358h1v1h-1zM389 359h1v1h-1zM390 359h1v1h-1zM393 359h1v1h-1zM394 359h1v1h-1zM389 360h1v1h-1zM390 360h1v1h-1zM393 360h1v1h-1zM394 360h1v1h-1zM396 353h1v1h-1zM397 353h1v1h-1zM400 353h1v1h-1zM401 353h1v1h-1zM396 354h1v1h-1zM397 354h1v1h-1zM400 354h1v1h-1zM401 354h1v1h-1zM397 355h1v1h-1zM398 355h1v1h-1zM399 355h1v1h-1zM400 355h1v1h-1zM398 356h1v1h-1zM399 356h1v1h-1zM398 357h1v1h-1zM399 357h1v1h-1zM398 358h1v1h-1zM399 358h1v1h-1zM398 359h1v1h-1zM399 359h1v1h-1zM398 360h1v1h-1zM399 360h1v1h-1zM404 353h1v1h-1zM405 353h1v1h-1zM406 353h1v1h-1zM407 353h1v1h-1zM403 354h1v1h-1zM404 354h1v1h-1zM407 354h1v1h-1zM408 354h1v1h-1zM403 355h1v1h-1zM404 355h1v1h-1zM404 356h1v1h-1zM405 356h1v1h-1zM406 356h1v1h-1zM407 356h1v1h-1zM407 357h1v1h-1zM408 357h1v1h-1zM407 358h1v1h-1zM408 358h1v1h-1zM403 359h1v1h-1zM404 359h1v1h-1zM407 359h1v1h-1zM408 359h1v1h-1zM404 360h1v1h-1zM405 360h1v1h-1zM406 360h1v1h-1zM407 360h1v1h-1zM10 203h1v1h-1zM10 202h1v1h-1zM10 201h1v1h-1zM10 200h1v1h-1zM10 199h1v1h-1zM11 203h1v1h-1zM11 202h1v1h-1zM11 199h1v1h-1zM11 198h1v1h-1zM12 203h1v1h-1zM12 202h1v1h-1zM12 199h1v1h-1zM12 198h1v1h-1zM13 203h1v1h-1zM13 202h1v1h-1zM13 201h1v1h-1zM13 200h1v1h-1zM13 199h1v1h-1zM14 203h1v1h-1zM14 202h1v1h-1zM14 201h1v1h-1zM14 200h1v1h-1zM15 203h1v1h-1zM15 202h1v1h-1zM15 200h1v1h-1zM15 199h1v1h-1zM16 203h1v1h-1zM16 202h1v1h-1zM16 199h1v1h-1zM16 198h1v1h-1zM17 203h1v1h-1zM17 202h1v1h-1zM17 199h1v1h-1zM17 198h1v1h-1zM10 195h1v1h-1zM10 194h1v1h-1zM10 193h1v1h-1zM10 192h1v1h-1zM11 196h1v1h-1zM11 195h1v1h-1zM11 192h1v1h-1zM11 191h1v1h-1zM12 196h1v1h-1zM12 195h1v1h-1zM12 192h1v1h-1zM12 191h1v1h-1zM13 196h1v1h-1zM13 195h1v1h-1zM13 192h1v1h-1zM13 191h1v1h-1zM14 196h1v1h-1zM14 195h1v1h-1zM14 194h1v1h-1zM14 193h1v1h-1zM14 192h1v1h-1zM14 191h1v1h-1zM15 196h1v1h-1zM15 195h1v1h-1zM15 192h1v1h-1zM15 191h1v1h-1zM16 196h1v1h-1zM16 195h1v1h-1zM16 192h1v1h-1zM16 191h1v1h-1zM17 196h1v1h-1zM17 195h1v1h-1zM17 192h1v1h-1zM17 191h1v1h-1zM10 189h1v1h-1zM10 188h1v1h-1zM10 187h1v1h-1zM10 186h1v1h-1zM10 185h1v1h-1zM10 184h1v1h-1zM11 187h1v1h-1zM11 186h1v1h-1zM12 187h1v1h-1zM12 186h1v1h-1zM13 187h1v1h-1zM13 186h1v1h-1zM14 187h1v1h-1zM14 186h1v1h-1zM15 187h1v1h-1zM15 186h1v1h-1zM16 187h1v1h-1zM16 186h1v1h-1zM17 187h1v1h-1zM17 186h1v1h-1zM10 182h1v1h-1zM10 181h1v1h-1zM10 180h1v1h-1zM10 179h1v1h-1zM10 178h1v1h-1zM10 177h1v1h-1zM11 182h1v1h-1zM11 181h1v1h-1zM12 182h1v1h-1zM12 181h1v1h-1zM13 182h1v1h-1zM13 181h1v1h-1zM13 180h1v1h-1zM13 179h1v1h-1zM13 178h1v1h-1zM14 182h1v1h-1zM14 181h1v1h-1zM15 182h1v1h-1zM15 181h1v1h-1zM16 182h1v1h-1zM16 181h1v1h-1zM17 182h1v1h-1zM17 181h1v1h-1zM17 180h1v1h-1zM17 179h1v1h-1zM17 178h1v1h-1zM17 177h1v1h-1zM10 174h1v1h-1zM10 173h1v1h-1zM10 172h1v1h-1zM10 171h1v1h-1zM11 175h1v1h-1zM11 174h1v1h-1zM11 171h1v1h-1zM11 170h1v1h-1zM12 175h1v1h-1zM12 174h1v1h-1zM13 174h1v1h-1zM13 173h1v1h-1zM13 172h1v1h-1zM13 171h1v1h-1zM14 171h1v1h-1zM14 170h1v1h-1zM15 171h1v1h-1zM15 170h1v1h-1zM16 175h1v1h-1zM16 174h1v1h-1zM16 171h1v1h-1zM16 170h1v1h-1zM17 174h1v1h-1zM17 173h1v1h-1zM17 172h1v1h-1zM17 171h1v1h-1z"/>
<rect x="776.5" y="50.5" width="198" height="400" fill="none" stroke="#808080" stroke-width="1" shape-rendering="crispEdges"/>
<g shape-rendering="crispEdges">
<rect x="781" y="58" width="11" height="2" fill="#2050d0"/>
<path fill="#000" d="M783 56h1v1h-1zM783 62h1v1h-1zM784 57h1v1h-1zM784 61h1v1h-1zM785 58h1v1h-1zM785 60h1v1h-1zM786 59h1v1h-1zM787 60h1v1h-1zM787 58h1v1h-1zM788 61h1v1h-1zM788 57h1v1h-1zM789 62h1v1h-1zM789 56h1v1h-1z"/>
<rect x="781" y="73" width="11" height="2" fill="#a0f040"/>
<path fill="#000" d="M783 71h1v1h-1zM783 77h1v1h-1zM784 72h1v1h-1zM784 76h1v1h-1zM785 73h1v1h-1zM785 75h1v1h-1zM786 74h1v1h-1zM787 75h1v1h-1zM787 73h1v1h-1zM788 76h1v1h-1zM788 72h1v1h-1zM789 77h1v1h-1zM789 71h1v1h-1z"/>
<rect x="781" y="88" width="11" height="2" fill="#20a050"/>
<path fill="#000" d="M783 86h1v1h-1zM783 92h1v1h-1zM784 87h1v1h-1zM784 91h1v1h-1zM785 88h1v1h-1zM785 90h1v1h-1zM786 89h1v1h-1zM787 90h1v1h-1zM787 88h1v1h-1zM788 91h1v1h-1zM788 87h1v1h-1zM789 92h1v1h-1zM789 86h1v1h-1z"/>
<rect x="781" y="103" width="11" height="2" fill="#002040"/>
<path fill="#000" d="M783 101h1v1h-1zM783 107h1v1h-1zM784 102h1v1h-1zM784 106h1v1h-1zM785 103h1v1h-1zM785 105h1v1h-1zM786 104h1v1h-1zM787 105h1v1h-1zM787 103h1v1h-1zM788 106h1v1h-1zM788 102h1v1h-1zM789 107h1v1h-1zM789 101h1v1h-1z"/>
<rect x="781" y="118" width="11" height="2" fill="#500000"/>
<path fill="#000" d="M783 116h1v1h-1zM783 122h1v1h-1zM784 117h1v1h-1zM784 121h1v1h-1zM785 118h1v1h-1zM785 120h1v1h-1zM786 119h1v1h-1zM787 120h1v1h-1zM787 118h1v1h-1zM788 121h1v1h-1zM788 117h1v1h-1zM789 122h1v1h-1zM789 116h1v1h-1z"/>
<rect x="781" y="133" width="11" height="2" fill="#b080c0"/>
<path fill="#000" d="M783 131h1v1h-1zM783 137h1v1h-1zM784 132h1v1h-1zM784 136h1v1h-1zM785 133h1v1h-1zM785 135h1v1h-1zM786 134h1v1h-1zM787 135h1v1h-1zM787 133h1v1h-1zM788 136h1v1h-1zM788 132h1v1h-1zM789 137h1v1h-1zM789 131h1v1h-1z"/>
<rect x="781" y="148" width="11" height="2" fill="#1040c0"/>
<path fill="#000" d="M783 146h1v1h-1zM783 152h1v1h-1zM784 147h1v1h-1zM784 151h1v1h-1zM785 148h1v1h-1zM785 150h1v1h-1zM786 149h1v1h-1zM787 150h1v1h-1zM787 148h1v1h-1zM788 151h1v1h-1zM788 147h1v1h-1zM789 152h1v1h-1zM789 146h1v1h-1z"/>
<rect x="781" y="169" width="11" height="2" fill="#c0b020"/>
<path fill="#000" d="M783 167h1v1h-1zM783 173h1v1h-1zM784 168h1v1h-1zM784 172h1v1h-1zM785 169h1v1h-1zM785 171h1v1h-1zM786 170h1v1h-1zM787 171h1v1h-1zM787 169h1v1h-1zM788 172h1v1h-1zM788 168h1v1h-1zM789 173h1v1h-1zM789 167h1v1h-1z"/>
<rect x="781" y="195" width="11" height="2" fill="#60e0b0"/>
<path fill="#000" d="M783 193h1v1h-1zM783 199h1v1h-1zM784 194h1v1h-1zM784 198h1v1h-1zM785 195h1v1h-1zM785 197h1v1h-1zM786 196h1v1h-1zM787 197h1v1h-1zM787 195h1v1h-1zM788 198h1v1h-1zM788 194h1v1h-1zM789 199h1v1h-1zM789 193h1v1h-1z"/>
<rect x="781" y="210" width="11" height="2" fill="#f0f040"/>
<path fill="#000" d="M783 208h1v1h-1zM783 214h1v1h-1zM784 209h1v1h-1zM784 213h1v1h-1zM785 210h1v1h-1zM785 212h1v1h-1zM786 211h1v1h-1zM787 212h1v1h-1zM787 210h1v1h-1zM788 213h1v1h-1zM788 209h1v1h-1zM789 214h1v1h-1zM789 208h1v1h-1z"/>
<rect x="781" y="228" width="11" height="2" fill="#a040e0"/>
<path fill="#000" d="M783 226h1v1h-1zM783 232h1v1h-1zM784 227h1v1h-1zM784 231h1v1h-1zM785 228h1v1h-1zM785 230h1v1h-1zM786 229h1v1h-1zM787 230h1v1h-1zM787 228h1v1h-1zM788 231h1v1h-1zM788 227h1v1h-1zM789 232h1v1h-1zM789 226h1v1h-1z"/>
<rect x="781" y="243" width="11" height="2" fill="#c06080"/>
<path fill="#000" d="M783 241h1v1h-1zM783 247h1v1h-1zM784 242h1v1h-1zM784 246h1v1h-1zM785 243h1v1h-1zM785 245h1v1h-1zM786 244h1v1h-1zM787 245h1v1h-1zM787 243h1v1h-1zM788 246h1v1h-1zM788 242h1v1h-1zM789 247h1v1h-1zM789 241h1v1h-1z"/>
<rect x="781" y="258" width="11" height="2" fill="#400030"/>
<path fill="#000" d="M783 256h1v1h-1zM783 262h1v1h-1zM784 257h1v1h-1zM784 261h1v1h-1zM785 258h1v1h-1zM785 260h1v1h-1zM786 259h1v1h-1zM787 260h1v1h-1zM787 258h1v1h-1zM788 261h1v1h-1zM788 257h1v1h-1zM789 262h1v1h-1zM789 256h1v1h-1z"/>
<rect x="781" y="273" width="11" height="2" fill="#a02010"/>
<path fill="#000" d="M783 271h1v1h-1zM783 277h1v1h-1zM784 272h1v1h-1zM784 276h1v1h-1zM785 273h1v1h-1zM785 275h1v1h-1zM786 274h1v1h-1zM787 275h1v1h-1zM787 273h1v1h-1zM788 276h1v1h-1zM788 272h1v1h-1zM789 277h1v1h-1zM789 271h1v1h-1z"/>
<rect x="781" y="288" width="11" height="2" fill="#601090"/>
<path fill="#000" d="M783 286h1v1h-1zM783 292h1v1h-1zM784 287h1v1h-1zM784 291h1v1h-1zM785 288h1v1h-1zM785 290h1v1h-1zM786 289h1v1h-1zM787 290h1v1h-1zM787 288h1v1h-1zM788 291h1v1h-1zM788 287h1v1h-1zM789 292h1v1h-1zM789 286h1v1h-1z"/>
<rect x="781" y="303" width="11" height="2" fill="#a0c0c0"/>
<path fill="#000" d="M783 301h1v1h-1zM783 307h1v1h-1zM784 302h1v1h-1zM784 306h1v1h-1zM785 303h1v1h-1zM785 305h1v1h-1zM786 304h1v1h-1zM787 305h1v1h-1zM787 303h1v1h-1zM788 306h1v1h-1zM788 302h1v1h-1zM789 307h1v1h-1zM789 301h1v1h-1z"/>
<rect x="781" y="318" width="11" height="2" fill="#c01020"/>
<path fill="#000" d="M783 316h1v1h-1zM783 322h1v1h-1zM784 317h1v1h-1zM784 321h1v1h-1zM785 318h1v1h-1zM785 320h1v1h-1zM786 319h1v1h-1zM787 320h1v1h-1zM787 318h1v1h-1zM788 321h1v1h-1zM788 317h1v1h-1zM789 322h1v1h-1zM789 316h1v1h-1z"/>
<rect x="781" y="333" width="11" height="2" fill="#a020d0"/>
<path fill="#000" d="M783 331h1v1h-1zM783 337h1v1h-1zM784 332h1v1h-1zM784 336h1v1h-1zM785 333h1v1h-1zM785 335h1v1h-1zM786 334h1v1h-1zM787 335h1v1h-1zM787 333h1v1h-1zM788 336h1v1h-1zM788 332h1v1h-1zM789 337h1v1h-1zM789 331h1v1h-1z"/>
<rect x="781" y="348" width="11" height="2" fill="#c0a0e0"/>
<path fill="#000" d="M783 346h1v1h-1zM783 352h1v1h-1zM784 347h1v1h-1zM784 351h1v1h-1zM785 348h1v1h-1zM785 350h1v1h-1zM786 349h1v1h-1zM787 350h1v1h-1zM787 348h1v1h-1zM788 351h1v1h-1zM788 347h1v1h-1zM789 352h1v1h-1zM789 346h1v1h-1z"/>
<rect x="781" y="363" width="11" height="2" fill="#408010"/>
<path fill="#000" d="M783 361h1v1h-1zM783 367h1v1h-1zM784 362h1v1h-1zM784 366h1v1h-1zM785 363h1v1h-1zM785 365h1v1h-1zM786 364h1v1h-1zM787 365h1v1h-1zM787 363h1v1h-1zM788 366h1v1h-1zM788 362h1v1h-1zM789 367h1v1h-1zM789 361h1v1h-1z"/>
<rect x="781" y="378" width="11" height="2" fill="#e040c0"/>
<path fill="#000" d="M783 376h1v1h-1zM783 382h1v1h-1zM784 377h1v1h-1zM784 381h1v1h-1zM785 378h1v1h-1zM785 380h1v1h-1zM786 379h1v1h-1zM787 380h1v1h-1zM787 378h1v1h-1zM788 381h1v1h-1zM788 377h1v1h-1zM789 382h1v1h-1zM789 376h1v1h-1z"/>
<rect x="781" y="393" width="11" height="2" fill="#308020"/>
<path fill="#000" d="M783 391h1v1h-1zM783 397h1v1h-1zM784 392h1v1h-1zM784 396h1v1h-1zM785 393h1v1h-1zM785 395h1v1h-1zM786 394h1v1h-1zM787 395h1v1h-1zM787 393h1v1h-1zM788 396h1v1h-1zM788 392h1v1h-1zM789 397h1v1h-1zM789 391h1v1h-1z"/>
<rect x="781" y="408" width="11" height="2" fill="#f05030"/>
<path fill="#000" d="M783 406h1v1h-1zM783 412h1v1h-1zM784 407h1v1h-1zM784 411h1v1h-1zM785 408h1v1h-1zM785 410h1v1h-1zM786 409h1v1h-1zM787 410h1v1h-1zM787 408h1v1h-1zM788 411h1v1h-1zM788 407h1v1h-1zM789 412h1v1h-1zM789 406h1v1h-1z"/>
<rect x="781" y="423" width="11" height="2" fill="#1040e0"/>
<path fill="#000" d="M783 421h1v1h-1zM783 427h1v1h-1zM784 422h1v1h-1zM784 426h1v1h-1zM785 423h1v1h-1zM785 425h1v1h-1zM786 424h1v1h-1zM787 425h1v1h-1zM787 423h1v1h-1zM788 426h1v1h-1zM788 422h1v1h-1zM789 427h1v1h-1zM789 421h1v1h-1z"/>
</g>
<g style="font-family:&quot;Liberation Sans&quot;,sans-serif;font-kerning:none" font-size="11" fill="#000" opacity="0.999">
<text x="801.2" y="62" textLength="65.35" lengthAdjust="spacingAndGlyphs" xml:space="preserve">CASTOR OIL</text>
<text x="801.2" y="77" textLength="151.75" lengthAdjust="spacingAndGlyphs" xml:space="preserve">CASTOR OIL - NANDI POUCH</text>
<text x="801.2" y="92" textLength="63.45" lengthAdjust="spacingAndGlyphs" xml:space="preserve">CASTOROIL</text>
<text x="801.2" y="107" textLength="164.70" lengthAdjust="spacingAndGlyphs" xml:space="preserve">COCONUT OIL SHUBH -POUCH</text>
<text x="801.2" y="122" textLength="131.72" lengthAdjust="spacingAndGlyphs" xml:space="preserve">GINGELLY OIL AMRUTAM</text>
<text x="801.2" y="137" textLength="139.47" lengthAdjust="spacingAndGlyphs" xml:space="preserve">GINGELLY OIL AMRUTHAM</text>
<text x="801.2" y="152" textLength="157.82" lengthAdjust="spacingAndGlyphs" xml:space="preserve">GINGELLY OIL NANDI -POUCH</text>
<text x="801.2" y="167" textLength="153.46" lengthAdjust="spacingAndGlyphs" xml:space="preserve">GINGELLY OIL TILAAMSHU -P</text>
<text x="801.2" y="179" textLength="33.18" lengthAdjust="spacingAndGlyphs" xml:space="preserve">OUCH</text>
<text x="801.2" y="199" textLength="114.75" lengthAdjust="spacingAndGlyphs" xml:space="preserve">PALM OIL REF  JYOTHI</text>
<text x="801.2" y="214" textLength="102.83" lengthAdjust="spacingAndGlyphs" xml:space="preserve">PALM OIL REF BEST</text>
<text x="801.2" y="232" textLength="111.85" lengthAdjust="spacingAndGlyphs" xml:space="preserve">PALM OIL REF JYOTHI</text>
<text x="801.2" y="247" textLength="111.86" lengthAdjust="spacingAndGlyphs" xml:space="preserve">PALM OIL REF RAAGA</text>
<text x="801.2" y="262" textLength="103.61" lengthAdjust="spacingAndGlyphs" xml:space="preserve">PALM OIL REF-BEST</text>
<text x="801.2" y="277" textLength="114.70" lengthAdjust="spacingAndGlyphs" xml:space="preserve">RB OIL REF  AKSHATH</text>
<text x="801.2" y="292" textLength="111.81" lengthAdjust="spacingAndGlyphs" xml:space="preserve">RB OIL REF AKSHATH</text>
<text x="801.2" y="307" textLength="119.32" lengthAdjust="spacingAndGlyphs" xml:space="preserve">SF OIL REF FORTUNUE</text>
<text x="801.2" y="322" textLength="98.69" lengthAdjust="spacingAndGlyphs" xml:space="preserve">SF OIL REF GEMINI</text>
<text x="801.2" y="337" textLength="139.34" lengthAdjust="spacingAndGlyphs" xml:space="preserve">SF OIL REF GOLD WINNER</text>
<text x="801.2" y="352" textLength="111.88" lengthAdjust="spacingAndGlyphs" xml:space="preserve">SF OIL REF SUN RICH</text>
<text x="801.2" y="367" textLength="113.31" lengthAdjust="spacingAndGlyphs" xml:space="preserve">SF OIL REF SUNDROP</text>
<text x="801.2" y="382" textLength="112.48" lengthAdjust="spacingAndGlyphs" xml:space="preserve">SF OIL-REF FORTUNE</text>
<text x="801.2" y="397" textLength="99.67" lengthAdjust="spacingAndGlyphs" xml:space="preserve">SF OIL-REF GEMINI</text>
<text x="801.2" y="412" textLength="140.21" lengthAdjust="spacingAndGlyphs" xml:space="preserve">SF OIL-REF GOLD WINNER</text>
<text x="801.2" y="427" textLength="112.36" lengthAdjust="spacingAndGlyphs" xml:space="preserve">SF OIL-REF SUN RICH</text>
</g>
</svg>
</body></html>
